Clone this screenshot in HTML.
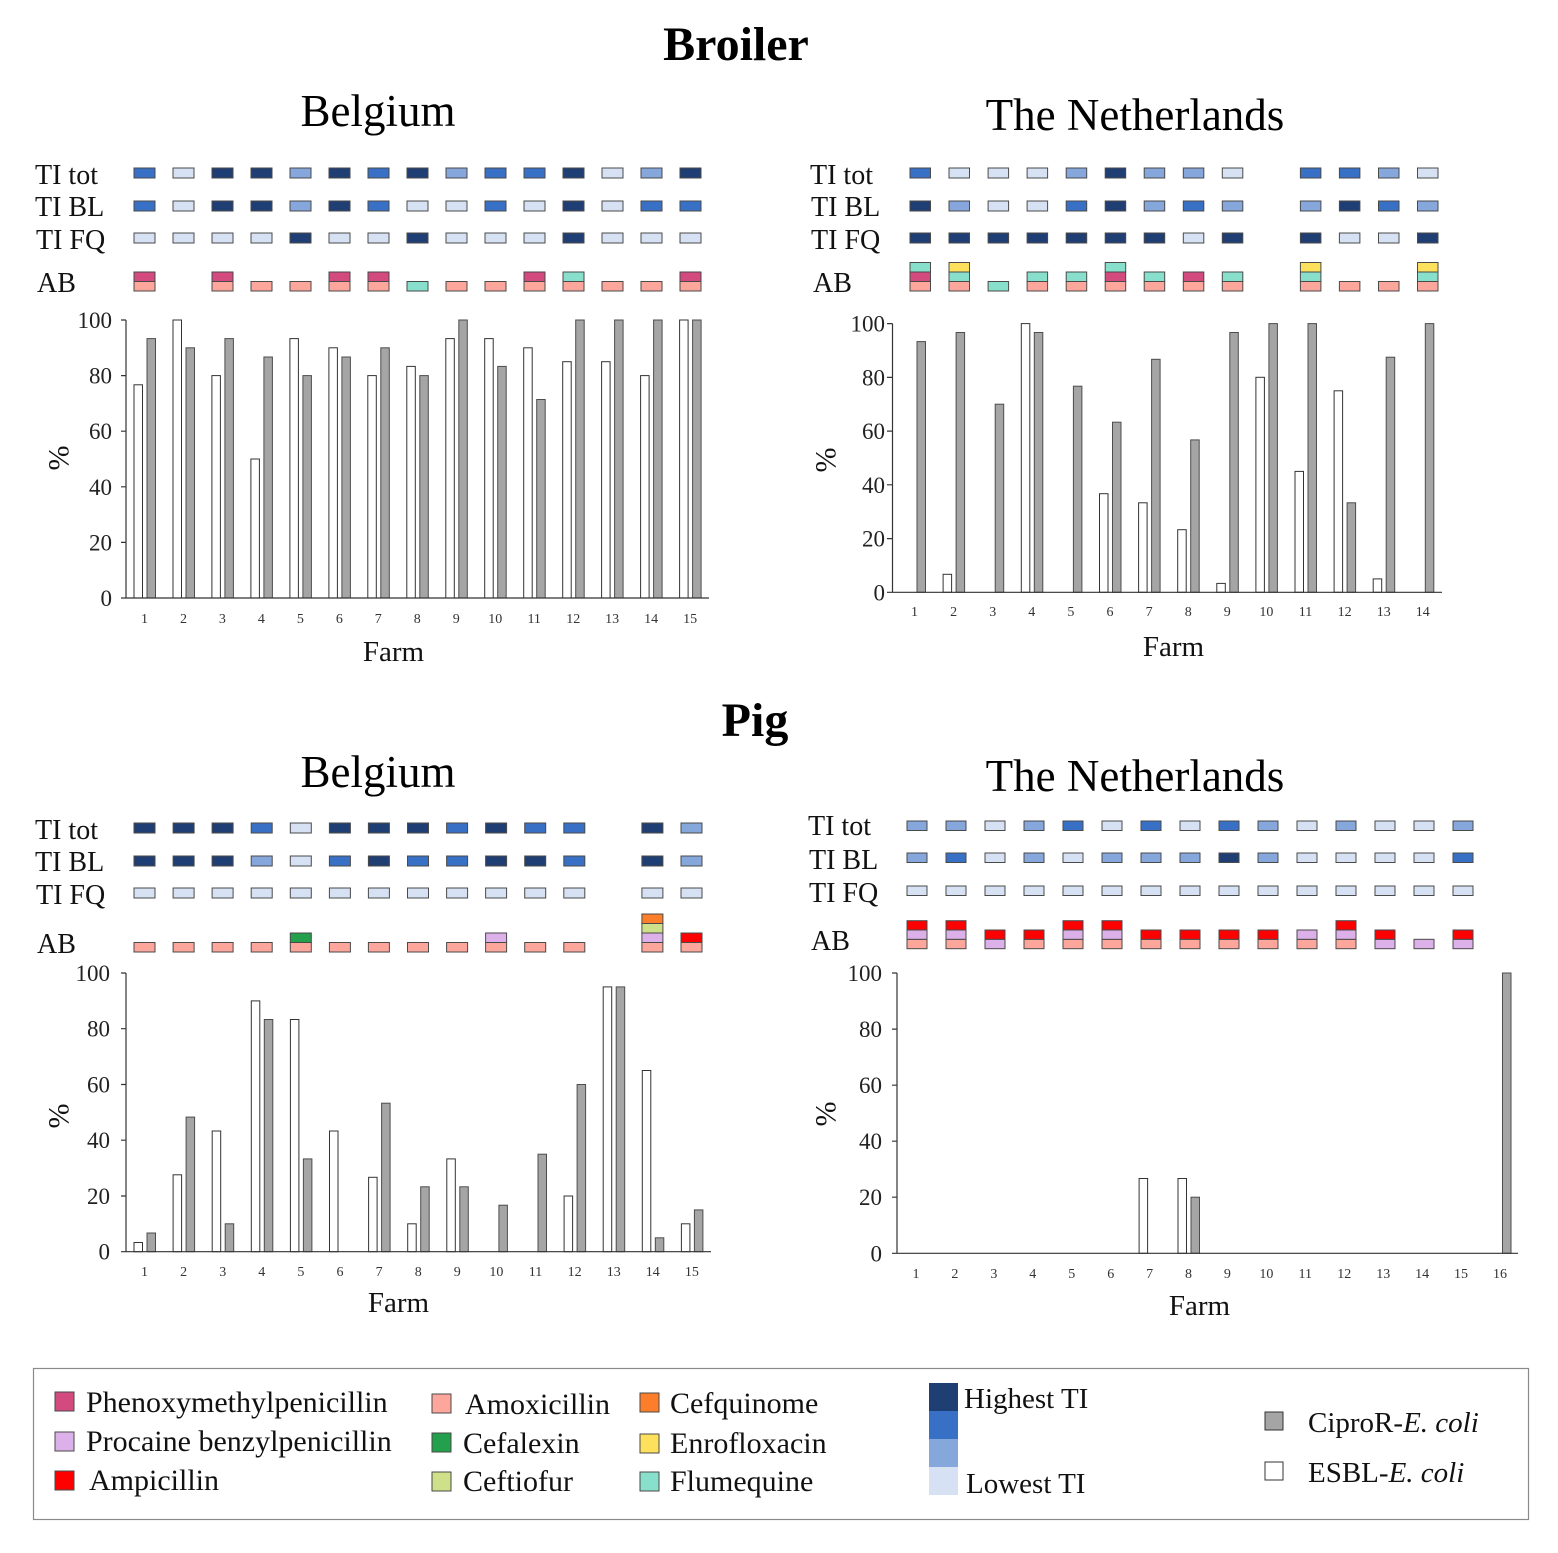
<!DOCTYPE html>
<html><head><meta charset="utf-8"><style>
html,body{margin:0;padding:0;background:#fff}
svg{display:block;font-family:"Liberation Serif",serif}
.b{stroke:#4a4a4a;stroke-width:1}
.c1{fill:#1f3e74}.c2{fill:#3870c5}.c3{fill:#86a7dc}.c4{fill:#d6e1f3}
.ph{fill:#d24a7e}.am{fill:#fda69b}.fl{fill:#88dfcb}.en{fill:#fde05b}.ap{fill:#ff0000}.pr{fill:#dcb0e8}.cx{fill:#22a04b}.cf{fill:#cfe08b}.cq{fill:#fc7e2b}
.w{fill:#fff;stroke:#333;stroke-width:1}
.g{fill:#a5a5a5;stroke:#4d4d4d;stroke-width:1}
.ax{stroke:#333;stroke-width:1.2;fill:none}
.tk{font-size:14px;fill:#333;text-anchor:middle}
.yl{font-size:23px;fill:#222;text-anchor:end}
.rl{font-size:28px;fill:#111}
.fm{font-size:29px;fill:#111;text-anchor:middle}
.pc{font-size:30px;fill:#111;text-anchor:middle}
.lg{font-size:30px;fill:#111}
.lg2{font-size:29px;fill:#111}
</style></head><body>
<svg width="1558" height="1553" viewBox="0 0 1558 1553" xmlns="http://www.w3.org/2000/svg">
<rect width="1558" height="1553" fill="#fff"/>
<!-- Titles -->
<text x="736" y="60" font-size="48" font-weight="bold" text-anchor="middle">Broiler</text>
<text x="378" y="126" font-size="45" text-anchor="middle">Belgium</text>
<text x="1135" y="130" font-size="45" text-anchor="middle">The Netherlands</text>
<text x="755" y="736" font-size="48" font-weight="bold" text-anchor="middle">Pig</text>
<text x="378" y="787" font-size="45" text-anchor="middle">Belgium</text>
<text x="1135" y="791" font-size="45" text-anchor="middle">The Netherlands</text>

<!-- ============ TOP LEFT ============ -->
<text class="rl" x="35" y="184">TI tot</text>
<text class="rl" x="35" y="216">TI BL</text>
<text class="rl" x="36" y="249">TI FQ</text>
<text class="rl" x="37" y="292">AB</text>
<g class="b">
<rect class="c2" x="134" y="168" width="21" height="10"/><rect class="c4" x="173" y="168" width="21" height="10"/><rect class="c1" x="212" y="168" width="21" height="10"/><rect class="c1" x="251" y="168" width="21" height="10"/><rect class="c3" x="290" y="168" width="21" height="10"/><rect class="c1" x="329" y="168" width="21" height="10"/><rect class="c2" x="368" y="168" width="21" height="10"/><rect class="c1" x="407" y="168" width="21" height="10"/><rect class="c3" x="446" y="168" width="21" height="10"/><rect class="c2" x="485" y="168" width="21" height="10"/><rect class="c2" x="524" y="168" width="21" height="10"/><rect class="c1" x="563" y="168" width="21" height="10"/><rect class="c4" x="602" y="168" width="21" height="10"/><rect class="c3" x="641" y="168" width="21" height="10"/><rect class="c1" x="680" y="168" width="21" height="10"/>
<rect class="c2" x="134" y="201" width="21" height="10"/><rect class="c4" x="173" y="201" width="21" height="10"/><rect class="c1" x="212" y="201" width="21" height="10"/><rect class="c1" x="251" y="201" width="21" height="10"/><rect class="c3" x="290" y="201" width="21" height="10"/><rect class="c1" x="329" y="201" width="21" height="10"/><rect class="c2" x="368" y="201" width="21" height="10"/><rect class="c4" x="407" y="201" width="21" height="10"/><rect class="c4" x="446" y="201" width="21" height="10"/><rect class="c2" x="485" y="201" width="21" height="10"/><rect class="c4" x="524" y="201" width="21" height="10"/><rect class="c1" x="563" y="201" width="21" height="10"/><rect class="c4" x="602" y="201" width="21" height="10"/><rect class="c2" x="641" y="201" width="21" height="10"/><rect class="c2" x="680" y="201" width="21" height="10"/>
<rect class="c4" x="134" y="233" width="21" height="10"/><rect class="c4" x="173" y="233" width="21" height="10"/><rect class="c4" x="212" y="233" width="21" height="10"/><rect class="c4" x="251" y="233" width="21" height="10"/><rect class="c1" x="290" y="233" width="21" height="10"/><rect class="c4" x="329" y="233" width="21" height="10"/><rect class="c4" x="368" y="233" width="21" height="10"/><rect class="c1" x="407" y="233" width="21" height="10"/><rect class="c4" x="446" y="233" width="21" height="10"/><rect class="c4" x="485" y="233" width="21" height="10"/><rect class="c4" x="524" y="233" width="21" height="10"/><rect class="c1" x="563" y="233" width="21" height="10"/><rect class="c4" x="602" y="233" width="21" height="10"/><rect class="c4" x="641" y="233" width="21" height="10"/><rect class="c4" x="680" y="233" width="21" height="10"/>
<!-- AB -->
<rect class="am" x="134" y="281.5" width="21" height="9.5"/><rect class="ph" x="134" y="272" width="21" height="9.5"/>
<rect class="am" x="212" y="281.5" width="21" height="9.5"/><rect class="ph" x="212" y="272" width="21" height="9.5"/>
<rect class="am" x="251" y="281.5" width="21" height="9.5"/>
<rect class="am" x="290" y="281.5" width="21" height="9.5"/>
<rect class="am" x="329" y="281.5" width="21" height="9.5"/><rect class="ph" x="329" y="272" width="21" height="9.5"/>
<rect class="am" x="368" y="281.5" width="21" height="9.5"/><rect class="ph" x="368" y="272" width="21" height="9.5"/>
<rect class="fl" x="407" y="281.5" width="21" height="9.5"/>
<rect class="am" x="446" y="281.5" width="21" height="9.5"/>
<rect class="am" x="485" y="281.5" width="21" height="9.5"/>
<rect class="am" x="524" y="281.5" width="21" height="9.5"/><rect class="ph" x="524" y="272" width="21" height="9.5"/>
<rect class="am" x="563" y="281.5" width="21" height="9.5"/><rect class="fl" x="563" y="272" width="21" height="9.5"/>
<rect class="am" x="602" y="281.5" width="21" height="9.5"/>
<rect class="am" x="641" y="281.5" width="21" height="9.5"/>
<rect class="am" x="680" y="281.5" width="21" height="9.5"/><rect class="ph" x="680" y="272" width="21" height="9.5"/>
</g>
<!-- bars TL -->
<rect class="w" x="134" y="384.8" width="8.5" height="213.2"/><rect class="g" x="147" y="338.6" width="8.5" height="259.4"/>
<rect class="w" x="173" y="320" width="8.5" height="278"/><rect class="g" x="186" y="347.8" width="8.5" height="250.2"/>
<rect class="w" x="211.9" y="375.6" width="8.5" height="222.4"/><rect class="g" x="224.9" y="338.6" width="8.5" height="259.4"/>
<rect class="w" x="250.9" y="459" width="8.5" height="139"/><rect class="g" x="263.9" y="357" width="8.5" height="241"/>
<rect class="w" x="289.9" y="338.6" width="8.5" height="259.4"/><rect class="g" x="302.9" y="375.6" width="8.5" height="222.4"/>
<rect class="w" x="328.9" y="347.8" width="8.5" height="250.2"/><rect class="g" x="341.9" y="357" width="8.5" height="241"/>
<rect class="w" x="367.8" y="375.6" width="8.5" height="222.4"/><rect class="g" x="380.8" y="347.8" width="8.5" height="250.2"/>
<rect class="w" x="406.8" y="366.4" width="8.5" height="231.6"/><rect class="g" x="419.8" y="375.6" width="8.5" height="222.4"/>
<rect class="w" x="445.8" y="338.6" width="8.5" height="259.4"/><rect class="g" x="458.8" y="320" width="8.5" height="278"/>
<rect class="w" x="484.7" y="338.6" width="8.5" height="259.4"/><rect class="g" x="497.7" y="366.4" width="8.5" height="231.6"/>
<rect class="w" x="523.7" y="347.8" width="8.5" height="250.2"/><rect class="g" x="536.7" y="399.5" width="8.5" height="198.5"/>
<rect class="w" x="562.7" y="361.7" width="8.5" height="236.3"/><rect class="g" x="575.7" y="320" width="8.5" height="278"/>
<rect class="w" x="601.6" y="361.7" width="8.5" height="236.3"/><rect class="g" x="614.6" y="320" width="8.5" height="278"/>
<rect class="w" x="640.6" y="375.6" width="8.5" height="222.4"/><rect class="g" x="653.6" y="320" width="8.5" height="278"/>
<rect class="w" x="679.6" y="320" width="8.5" height="278"/><rect class="g" x="692.6" y="320" width="8.5" height="278"/>
<!-- axes TL -->
<path class="ax" d="M126,320V598H709M121,320H126M121,375.6H126M121,431.2H126M121,486.8H126M121,542.4H126M121,598H126"/>
<text class="yl" x="112" y="328">100</text><text class="yl" x="112" y="383.6">80</text><text class="yl" x="112" y="439.2">60</text><text class="yl" x="112" y="494.8">40</text><text class="yl" x="112" y="550.4">20</text><text class="yl" x="112" y="606">0</text>
<g class="tk"><text x="144.5" y="623">1</text><text x="183.5" y="623">2</text><text x="222.4" y="623">3</text><text x="261.4" y="623">4</text><text x="300.4" y="623">5</text><text x="339.4" y="623">6</text><text x="378.3" y="623">7</text><text x="417.3" y="623">8</text><text x="456.3" y="623">9</text><text x="495.2" y="623">10</text><text x="534.2" y="623">11</text><text x="573.2" y="623">12</text><text x="612.1" y="623">13</text><text x="651.1" y="623">14</text><text x="690.1" y="623">15</text></g>
<text class="pc" transform="translate(68.5,458) rotate(-90)">%</text>
<text class="fm" x="393.5" y="661">Farm</text>

<!-- ============ TOP RIGHT ============ -->
<text class="rl" x="810" y="184">TI tot</text>
<text class="rl" x="811" y="216">TI BL</text>
<text class="rl" x="811" y="249">TI FQ</text>
<text class="rl" x="813" y="292">AB</text>
<g class="b">
<rect class="c2" x="910" y="168" width="20.5" height="10"/><rect class="c4" x="949" y="168" width="20.5" height="10"/><rect class="c4" x="988.1" y="168" width="20.5" height="10"/><rect class="c4" x="1027.1" y="168" width="20.5" height="10"/><rect class="c3" x="1066.2" y="168" width="20.5" height="10"/><rect class="c1" x="1105.2" y="168" width="20.5" height="10"/><rect class="c3" x="1144.2" y="168" width="20.5" height="10"/><rect class="c3" x="1183.3" y="168" width="20.5" height="10"/><rect class="c4" x="1222.3" y="168" width="20.5" height="10"/><rect class="c2" x="1300.4" y="168" width="20.5" height="10"/><rect class="c2" x="1339.4" y="168" width="20.5" height="10"/><rect class="c3" x="1378.5" y="168" width="20.5" height="10"/><rect class="c4" x="1417.5" y="168" width="20.5" height="10"/>
<rect class="c1" x="910" y="201" width="20.5" height="10"/><rect class="c3" x="949" y="201" width="20.5" height="10"/><rect class="c4" x="988.1" y="201" width="20.5" height="10"/><rect class="c4" x="1027.1" y="201" width="20.5" height="10"/><rect class="c2" x="1066.2" y="201" width="20.5" height="10"/><rect class="c1" x="1105.2" y="201" width="20.5" height="10"/><rect class="c3" x="1144.2" y="201" width="20.5" height="10"/><rect class="c2" x="1183.3" y="201" width="20.5" height="10"/><rect class="c3" x="1222.3" y="201" width="20.5" height="10"/><rect class="c3" x="1300.4" y="201" width="20.5" height="10"/><rect class="c1" x="1339.4" y="201" width="20.5" height="10"/><rect class="c2" x="1378.5" y="201" width="20.5" height="10"/><rect class="c3" x="1417.5" y="201" width="20.5" height="10"/>
<rect class="c1" x="910" y="233" width="20.5" height="10"/><rect class="c1" x="949" y="233" width="20.5" height="10"/><rect class="c1" x="988.1" y="233" width="20.5" height="10"/><rect class="c1" x="1027.1" y="233" width="20.5" height="10"/><rect class="c1" x="1066.2" y="233" width="20.5" height="10"/><rect class="c1" x="1105.2" y="233" width="20.5" height="10"/><rect class="c1" x="1144.2" y="233" width="20.5" height="10"/><rect class="c4" x="1183.3" y="233" width="20.5" height="10"/><rect class="c1" x="1222.3" y="233" width="20.5" height="10"/><rect class="c1" x="1300.4" y="233" width="20.5" height="10"/><rect class="c4" x="1339.4" y="233" width="20.5" height="10"/><rect class="c4" x="1378.5" y="233" width="20.5" height="10"/><rect class="c1" x="1417.5" y="233" width="20.5" height="10"/>
<!-- AB -->
<rect class="am" x="910" y="281.5" width="20.5" height="9.5"/><rect class="ph" x="910" y="272" width="20.5" height="9.5"/><rect class="fl" x="910" y="262.5" width="20.5" height="9.5"/>
<rect class="am" x="949" y="281.5" width="20.5" height="9.5"/><rect class="fl" x="949" y="272" width="20.5" height="9.5"/><rect class="en" x="949" y="262.5" width="20.5" height="9.5"/>
<rect class="fl" x="988.1" y="281.5" width="20.5" height="9.5"/>
<rect class="am" x="1027.1" y="281.5" width="20.5" height="9.5"/><rect class="fl" x="1027.1" y="272" width="20.5" height="9.5"/>
<rect class="am" x="1066.2" y="281.5" width="20.5" height="9.5"/><rect class="fl" x="1066.2" y="272" width="20.5" height="9.5"/>
<rect class="am" x="1105.2" y="281.5" width="20.5" height="9.5"/><rect class="ph" x="1105.2" y="272" width="20.5" height="9.5"/><rect class="fl" x="1105.2" y="262.5" width="20.5" height="9.5"/>
<rect class="am" x="1144.2" y="281.5" width="20.5" height="9.5"/><rect class="fl" x="1144.2" y="272" width="20.5" height="9.5"/>
<rect class="am" x="1183.3" y="281.5" width="20.5" height="9.5"/><rect class="ph" x="1183.3" y="272" width="20.5" height="9.5"/>
<rect class="am" x="1222.3" y="281.5" width="20.5" height="9.5"/><rect class="fl" x="1222.3" y="272" width="20.5" height="9.5"/>
<rect class="am" x="1300.4" y="281.5" width="20.5" height="9.5"/><rect class="fl" x="1300.4" y="272" width="20.5" height="9.5"/><rect class="en" x="1300.4" y="262.5" width="20.5" height="9.5"/>
<rect class="am" x="1339.4" y="281.5" width="20.5" height="9.5"/>
<rect class="am" x="1378.5" y="281.5" width="20.5" height="9.5"/>
<rect class="am" x="1417.5" y="281.5" width="20.5" height="9.5"/><rect class="fl" x="1417.5" y="272" width="20.5" height="9.5"/><rect class="en" x="1417.5" y="262.5" width="20.5" height="9.5"/>
</g>
<!-- bars TR -->
<rect class="g" x="917" y="341.6" width="8.5" height="250.7"/>
<rect class="w" x="943.1" y="574.3" width="8.5" height="18"/><rect class="g" x="956.1" y="332.5" width="8.5" height="259.8"/>
<rect class="g" x="995.2" y="404.2" width="8.5" height="188.1"/>
<rect class="w" x="1021.3" y="323.6" width="8.5" height="268.7"/><rect class="g" x="1034.3" y="332.5" width="8.5" height="259.8"/>
<rect class="g" x="1073.4" y="386.2" width="8.5" height="206.1"/>
<rect class="w" x="1099.5" y="493.7" width="8.5" height="98.6"/><rect class="g" x="1112.5" y="422.2" width="8.5" height="170.1"/>
<rect class="w" x="1138.6" y="502.8" width="8.5" height="89.5"/><rect class="g" x="1151.6" y="359.3" width="8.5" height="233"/>
<rect class="w" x="1177.7" y="529.7" width="8.5" height="62.6"/><rect class="g" x="1190.7" y="439.9" width="8.5" height="152.4"/>
<rect class="w" x="1216.8" y="583.4" width="8.5" height="8.9"/><rect class="g" x="1229.8" y="332.5" width="8.5" height="259.8"/>
<rect class="w" x="1255.9" y="377.3" width="8.5" height="215"/><rect class="g" x="1268.9" y="323.6" width="8.5" height="268.7"/>
<rect class="w" x="1295" y="471.4" width="8.5" height="120.9"/><rect class="g" x="1308" y="323.6" width="8.5" height="268.7"/>
<rect class="w" x="1334.1" y="390.8" width="8.5" height="201.5"/><rect class="g" x="1347.1" y="502.8" width="8.5" height="89.5"/>
<rect class="w" x="1373.2" y="578.9" width="8.5" height="13.4"/><rect class="g" x="1386.2" y="357.2" width="8.5" height="235.1"/>
<rect class="g" x="1425.3" y="323.6" width="8.5" height="268.7"/>
<!-- axes TR -->
<path class="ax" d="M892.5,323.6V592.3H1442M887,323.6H892.5M887,377.4H892.5M887,431.1H892.5M887,484.8H892.5M887,538.6H892.5M887,592.3H892.5"/>
<text class="yl" x="885" y="331.6">100</text><text class="yl" x="885" y="385.4">80</text><text class="yl" x="885" y="439.1">60</text><text class="yl" x="885" y="492.8">40</text><text class="yl" x="885" y="546.6">20</text><text class="yl" x="885" y="600.3">0</text>
<g class="tk"><text x="914.5" y="616">1</text><text x="953.6" y="616">2</text><text x="992.7" y="616">3</text><text x="1031.8" y="616">4</text><text x="1070.9" y="616">5</text><text x="1110" y="616">6</text><text x="1149.1" y="616">7</text><text x="1188.2" y="616">8</text><text x="1227.3" y="616">9</text><text x="1266.4" y="616">10</text><text x="1305.5" y="616">11</text><text x="1344.6" y="616">12</text><text x="1383.7" y="616">13</text><text x="1422.8" y="616">14</text></g>
<text class="pc" transform="translate(835.5,460) rotate(-90)">%</text>
<text class="fm" x="1173.5" y="656">Farm</text>

<!-- ============ BOTTOM LEFT ============ -->
<text class="rl" x="35" y="839">TI tot</text>
<text class="rl" x="35" y="871">TI BL</text>
<text class="rl" x="36" y="904">TI FQ</text>
<text class="rl" x="37" y="953">AB</text>
<g class="b">
<rect class="c1" x="134" y="823" width="21" height="10"/><rect class="c1" x="173.1" y="823" width="21" height="10"/><rect class="c1" x="212.1" y="823" width="21" height="10"/><rect class="c2" x="251.2" y="823" width="21" height="10"/><rect class="c4" x="290.3" y="823" width="21" height="10"/><rect class="c1" x="329.4" y="823" width="21" height="10"/><rect class="c1" x="368.4" y="823" width="21" height="10"/><rect class="c1" x="407.5" y="823" width="21" height="10"/><rect class="c2" x="446.6" y="823" width="21" height="10"/><rect class="c1" x="485.6" y="823" width="21" height="10"/><rect class="c2" x="524.7" y="823" width="21" height="10"/><rect class="c2" x="563.8" y="823" width="21" height="10"/><rect class="c1" x="641.9" y="823" width="21" height="10"/><rect class="c3" x="681" y="823" width="21" height="10"/>
<rect class="c1" x="134" y="856" width="21" height="10"/><rect class="c1" x="173.1" y="856" width="21" height="10"/><rect class="c1" x="212.1" y="856" width="21" height="10"/><rect class="c3" x="251.2" y="856" width="21" height="10"/><rect class="c4" x="290.3" y="856" width="21" height="10"/><rect class="c2" x="329.4" y="856" width="21" height="10"/><rect class="c1" x="368.4" y="856" width="21" height="10"/><rect class="c2" x="407.5" y="856" width="21" height="10"/><rect class="c2" x="446.6" y="856" width="21" height="10"/><rect class="c1" x="485.6" y="856" width="21" height="10"/><rect class="c1" x="524.7" y="856" width="21" height="10"/><rect class="c2" x="563.8" y="856" width="21" height="10"/><rect class="c1" x="641.9" y="856" width="21" height="10"/><rect class="c3" x="681" y="856" width="21" height="10"/>
<rect class="c4" x="134" y="888" width="21" height="10"/><rect class="c4" x="173.1" y="888" width="21" height="10"/><rect class="c4" x="212.1" y="888" width="21" height="10"/><rect class="c4" x="251.2" y="888" width="21" height="10"/><rect class="c4" x="290.3" y="888" width="21" height="10"/><rect class="c4" x="329.4" y="888" width="21" height="10"/><rect class="c4" x="368.4" y="888" width="21" height="10"/><rect class="c4" x="407.5" y="888" width="21" height="10"/><rect class="c4" x="446.6" y="888" width="21" height="10"/><rect class="c4" x="485.6" y="888" width="21" height="10"/><rect class="c4" x="524.7" y="888" width="21" height="10"/><rect class="c4" x="563.8" y="888" width="21" height="10"/><rect class="c4" x="641.9" y="888" width="21" height="10"/><rect class="c4" x="681" y="888" width="21" height="10"/>
<!-- AB -->
<rect class="am" x="134" y="942.5" width="21" height="9.5"/>
<rect class="am" x="173.1" y="942.5" width="21" height="9.5"/>
<rect class="am" x="212.1" y="942.5" width="21" height="9.5"/>
<rect class="am" x="251.2" y="942.5" width="21" height="9.5"/>
<rect class="am" x="290.3" y="942.5" width="21" height="9.5"/><rect class="cx" x="290.3" y="933" width="21" height="9.5"/>
<rect class="am" x="329.4" y="942.5" width="21" height="9.5"/>
<rect class="am" x="368.4" y="942.5" width="21" height="9.5"/>
<rect class="am" x="407.5" y="942.5" width="21" height="9.5"/>
<rect class="am" x="446.6" y="942.5" width="21" height="9.5"/>
<rect class="am" x="485.6" y="942.5" width="21" height="9.5"/><rect class="pr" x="485.6" y="933" width="21" height="9.5"/>
<rect class="am" x="524.7" y="942.5" width="21" height="9.5"/>
<rect class="am" x="563.8" y="942.5" width="21" height="9.5"/>
<rect class="am" x="641.9" y="942.5" width="21" height="9.5"/><rect class="pr" x="641.9" y="933" width="21" height="9.5"/><rect class="cf" x="641.9" y="923.5" width="21" height="9.5"/><rect class="cq" x="641.9" y="914" width="21" height="9.5"/>
<rect class="am" x="681" y="942.5" width="21" height="9.5"/><rect class="ap" x="681" y="933" width="21" height="9.5"/>
</g>
<!-- bars BL -->
<rect class="w" x="134" y="1242.5" width="8.5" height="9.2"/><rect class="g" x="147" y="1233" width="8.5" height="18.7"/>
<rect class="w" x="173.1" y="1174.8" width="8.5" height="76.9"/><rect class="g" x="186.1" y="1117.1" width="8.5" height="134.6"/>
<rect class="w" x="212.2" y="1131" width="8.5" height="120.7"/><rect class="g" x="225.2" y="1223.8" width="8.5" height="27.9"/>
<rect class="w" x="251.3" y="1000.9" width="8.5" height="250.8"/><rect class="g" x="264.3" y="1019.5" width="8.5" height="232.2"/>
<rect class="w" x="290.4" y="1019.5" width="8.5" height="232.2"/><rect class="g" x="303.4" y="1158.9" width="8.5" height="92.8"/>
<rect class="w" x="329.5" y="1131" width="8.5" height="120.7"/>
<rect class="w" x="368.6" y="1177.3" width="8.5" height="74.4"/><rect class="g" x="381.6" y="1103.2" width="8.5" height="148.5"/>
<rect class="w" x="407.7" y="1223.8" width="8.5" height="27.9"/><rect class="g" x="420.7" y="1186.8" width="8.5" height="64.9"/>
<rect class="w" x="446.8" y="1158.9" width="8.5" height="92.8"/><rect class="g" x="459.8" y="1186.8" width="8.5" height="64.9"/>
<rect class="g" x="498.9" y="1205.2" width="8.5" height="46.5"/>
<rect class="g" x="538" y="1154.2" width="8.5" height="97.5"/>
<rect class="w" x="564.1" y="1196" width="8.5" height="55.7"/><rect class="g" x="577.1" y="1084.5" width="8.5" height="167.2"/>
<rect class="w" x="603.2" y="986.9" width="8.5" height="264.8"/><rect class="g" x="616.2" y="986.9" width="8.5" height="264.8"/>
<rect class="w" x="642.3" y="1070.5" width="8.5" height="181.2"/><rect class="g" x="655.3" y="1237.8" width="8.5" height="13.9"/>
<rect class="w" x="681.4" y="1223.8" width="8.5" height="27.9"/><rect class="g" x="694.4" y="1209.9" width="8.5" height="41.8"/>
<!-- axes BL -->
<path class="ax" d="M126,973V1251.7H711M121,973H126M121,1028.7H126M121,1084.5H126M121,1140.2H126M121,1196H126M121,1251.7H126"/>
<text class="yl" x="110" y="981">100</text><text class="yl" x="110" y="1036.7">80</text><text class="yl" x="110" y="1092.5">60</text><text class="yl" x="110" y="1148.2">40</text><text class="yl" x="110" y="1204">20</text><text class="yl" x="110" y="1259.7">0</text>
<g class="tk"><text x="144.5" y="1276">1</text><text x="183.6" y="1276">2</text><text x="222.7" y="1276">3</text><text x="261.8" y="1276">4</text><text x="300.9" y="1276">5</text><text x="340" y="1276">6</text><text x="379.1" y="1276">7</text><text x="418.2" y="1276">8</text><text x="457.3" y="1276">9</text><text x="496.4" y="1276">10</text><text x="535.5" y="1276">11</text><text x="574.6" y="1276">12</text><text x="613.7" y="1276">13</text><text x="652.8" y="1276">14</text><text x="691.9" y="1276">15</text></g>
<text class="pc" transform="translate(68.5,1116) rotate(-90)">%</text>
<text class="fm" x="398.5" y="1312">Farm</text>

<!-- ============ BOTTOM RIGHT ============ -->
<text class="rl" x="808" y="835">TI tot</text>
<text class="rl" x="809" y="869">TI BL</text>
<text class="rl" x="809" y="902">TI FQ</text>
<text class="rl" x="811" y="950">AB</text>
<g class="b">
<rect class="c3" x="907" y="821" width="20" height="9.5"/><rect class="c3" x="946" y="821" width="20" height="9.5"/><rect class="c4" x="985" y="821" width="20" height="9.5"/><rect class="c3" x="1024" y="821" width="20" height="9.5"/><rect class="c2" x="1063" y="821" width="20" height="9.5"/><rect class="c4" x="1102" y="821" width="20" height="9.5"/><rect class="c2" x="1141" y="821" width="20" height="9.5"/><rect class="c4" x="1180" y="821" width="20" height="9.5"/><rect class="c2" x="1219" y="821" width="20" height="9.5"/><rect class="c3" x="1258" y="821" width="20" height="9.5"/><rect class="c4" x="1297" y="821" width="20" height="9.5"/><rect class="c3" x="1336" y="821" width="20" height="9.5"/><rect class="c4" x="1375" y="821" width="20" height="9.5"/><rect class="c4" x="1414" y="821" width="20" height="9.5"/><rect class="c3" x="1453" y="821" width="20" height="9.5"/>
<rect class="c3" x="907" y="853" width="20" height="9.5"/><rect class="c2" x="946" y="853" width="20" height="9.5"/><rect class="c4" x="985" y="853" width="20" height="9.5"/><rect class="c3" x="1024" y="853" width="20" height="9.5"/><rect class="c4" x="1063" y="853" width="20" height="9.5"/><rect class="c3" x="1102" y="853" width="20" height="9.5"/><rect class="c3" x="1141" y="853" width="20" height="9.5"/><rect class="c3" x="1180" y="853" width="20" height="9.5"/><rect class="c1" x="1219" y="853" width="20" height="9.5"/><rect class="c3" x="1258" y="853" width="20" height="9.5"/><rect class="c4" x="1297" y="853" width="20" height="9.5"/><rect class="c4" x="1336" y="853" width="20" height="9.5"/><rect class="c4" x="1375" y="853" width="20" height="9.5"/><rect class="c4" x="1414" y="853" width="20" height="9.5"/><rect class="c2" x="1453" y="853" width="20" height="9.5"/>
<rect class="c4" x="907" y="886" width="20" height="9.5"/><rect class="c4" x="946" y="886" width="20" height="9.5"/><rect class="c4" x="985" y="886" width="20" height="9.5"/><rect class="c4" x="1024" y="886" width="20" height="9.5"/><rect class="c4" x="1063" y="886" width="20" height="9.5"/><rect class="c4" x="1102" y="886" width="20" height="9.5"/><rect class="c4" x="1141" y="886" width="20" height="9.5"/><rect class="c4" x="1180" y="886" width="20" height="9.5"/><rect class="c4" x="1219" y="886" width="20" height="9.5"/><rect class="c4" x="1258" y="886" width="20" height="9.5"/><rect class="c4" x="1297" y="886" width="20" height="9.5"/><rect class="c4" x="1336" y="886" width="20" height="9.5"/><rect class="c4" x="1375" y="886" width="20" height="9.5"/><rect class="c4" x="1414" y="886" width="20" height="9.5"/><rect class="c4" x="1453" y="886" width="20" height="9.5"/>
<!-- AB -->
<rect class="am" x="907" y="939.3" width="20" height="9.4"/><rect class="pr" x="907" y="930" width="20" height="9.3"/><rect class="ap" x="907" y="920.7" width="20" height="9.3"/>
<rect class="am" x="946" y="939.3" width="20" height="9.4"/><rect class="pr" x="946" y="930" width="20" height="9.3"/><rect class="ap" x="946" y="920.7" width="20" height="9.3"/>
<rect class="pr" x="985" y="939.3" width="20" height="9.4"/><rect class="ap" x="985" y="930" width="20" height="9.3"/>
<rect class="am" x="1024" y="939.3" width="20" height="9.4"/><rect class="ap" x="1024" y="930" width="20" height="9.3"/>
<rect class="am" x="1063" y="939.3" width="20" height="9.4"/><rect class="pr" x="1063" y="930" width="20" height="9.3"/><rect class="ap" x="1063" y="920.7" width="20" height="9.3"/>
<rect class="am" x="1102" y="939.3" width="20" height="9.4"/><rect class="pr" x="1102" y="930" width="20" height="9.3"/><rect class="ap" x="1102" y="920.7" width="20" height="9.3"/>
<rect class="am" x="1141" y="939.3" width="20" height="9.4"/><rect class="ap" x="1141" y="930" width="20" height="9.3"/>
<rect class="am" x="1180" y="939.3" width="20" height="9.4"/><rect class="ap" x="1180" y="930" width="20" height="9.3"/>
<rect class="am" x="1219" y="939.3" width="20" height="9.4"/><rect class="ap" x="1219" y="930" width="20" height="9.3"/>
<rect class="am" x="1258" y="939.3" width="20" height="9.4"/><rect class="ap" x="1258" y="930" width="20" height="9.3"/>
<rect class="am" x="1297" y="939.3" width="20" height="9.4"/><rect class="pr" x="1297" y="930" width="20" height="9.3"/>
<rect class="am" x="1336" y="939.3" width="20" height="9.4"/><rect class="pr" x="1336" y="930" width="20" height="9.3"/><rect class="ap" x="1336" y="920.7" width="20" height="9.3"/>
<rect class="pr" x="1375" y="939.3" width="20" height="9.4"/><rect class="ap" x="1375" y="930" width="20" height="9.3"/>
<rect class="pr" x="1414" y="939.3" width="20" height="9.4"/>
<rect class="pr" x="1453" y="939.3" width="20" height="9.4"/><rect class="ap" x="1453" y="930" width="20" height="9.3"/>
</g>
<!-- bars BR -->
<rect class="w" x="1139.1" y="1178.5" width="8.5" height="74.8"/>
<rect class="w" x="1178" y="1178.5" width="8.5" height="74.8"/><rect class="g" x="1191" y="1197.2" width="8.5" height="56.1"/>
<rect class="g" x="1502.5" y="973" width="8.5" height="280.3"/>
<!-- axes BR -->
<path class="ax" d="M897,973V1253.3H1518M892,973H897M892,1029.1H897M892,1085.2H897M892,1141.2H897M892,1197.2H897M892,1253.3H897"/>
<text class="yl" x="882" y="981">100</text><text class="yl" x="882" y="1037.1">80</text><text class="yl" x="882" y="1093.2">60</text><text class="yl" x="882" y="1149.2">40</text><text class="yl" x="882" y="1205.2">20</text><text class="yl" x="882" y="1261.3">0</text>
<g class="tk"><text x="916" y="1278">1</text><text x="954.9" y="1278">2</text><text x="993.9" y="1278">3</text><text x="1032.8" y="1278">4</text><text x="1071.7" y="1278">5</text><text x="1110.7" y="1278">6</text><text x="1149.6" y="1278">7</text><text x="1188.5" y="1278">8</text><text x="1227.4" y="1278">9</text><text x="1266.4" y="1278">10</text><text x="1305.3" y="1278">11</text><text x="1344.2" y="1278">12</text><text x="1383.2" y="1278">13</text><text x="1422.1" y="1278">14</text><text x="1461" y="1278">15</text><text x="1500" y="1278">16</text></g>
<text class="pc" transform="translate(835.5,1114) rotate(-90)">%</text>
<text class="fm" x="1199.5" y="1315">Farm</text>

<!-- ============ LEGEND ============ -->
<rect x="33.5" y="1368.5" width="1495" height="151" fill="none" stroke="#8a8a8a" stroke-width="1.2"/>
<g class="b">
<rect class="ph" x="55" y="1392" width="19" height="19"/>
<rect class="pr" x="55" y="1432" width="19" height="19"/>
<rect class="ap" x="55" y="1471" width="19" height="19"/>
<rect class="am" x="432" y="1394" width="19" height="19"/>
<rect class="cx" x="432" y="1433" width="19" height="19"/>
<rect class="cf" x="432" y="1472" width="19" height="19"/>
<rect class="cq" x="640" y="1393" width="19" height="19"/>
<rect class="en" x="640" y="1434" width="19" height="19"/>
<rect class="fl" x="640" y="1472" width="19" height="19"/>
</g>
<text class="lg" x="86" y="1412">Phenoxymethylpenicillin</text>
<text class="lg" x="86" y="1451">Procaine benzylpenicillin</text>
<text class="lg" x="89" y="1490">Ampicillin</text>
<text class="lg" x="465" y="1414">Amoxicillin</text>
<text class="lg" x="463" y="1453">Cefalexin</text>
<text class="lg" x="463" y="1491">Ceftiofur</text>
<text class="lg" x="670" y="1413">Cefquinome</text>
<text class="lg" x="670" y="1453">Enrofloxacin</text>
<text class="lg" x="670" y="1491">Flumequine</text>
<rect class="c1" x="929" y="1383" width="29" height="28"/>
<rect class="c2" x="929" y="1411" width="29" height="28"/>
<rect class="c3" x="929" y="1439" width="29" height="28"/>
<rect class="c4" x="929" y="1467" width="29" height="28"/>
<text class="lg2" x="964" y="1408">Highest TI</text>
<text class="lg2" x="966" y="1493">Lowest TI</text>
<rect x="1265" y="1412" width="18" height="18" fill="#a5a5a5" stroke="#333" stroke-width="1"/>
<rect x="1265" y="1462" width="18" height="18" fill="#fff" stroke="#333" stroke-width="1"/>
<text class="lg2" x="1308" y="1432">CiproR-<tspan font-style="italic">E. coli</tspan></text>
<text class="lg2" x="1308" y="1482">ESBL-<tspan font-style="italic">E. coli</tspan></text>
</svg>
</body></html>
